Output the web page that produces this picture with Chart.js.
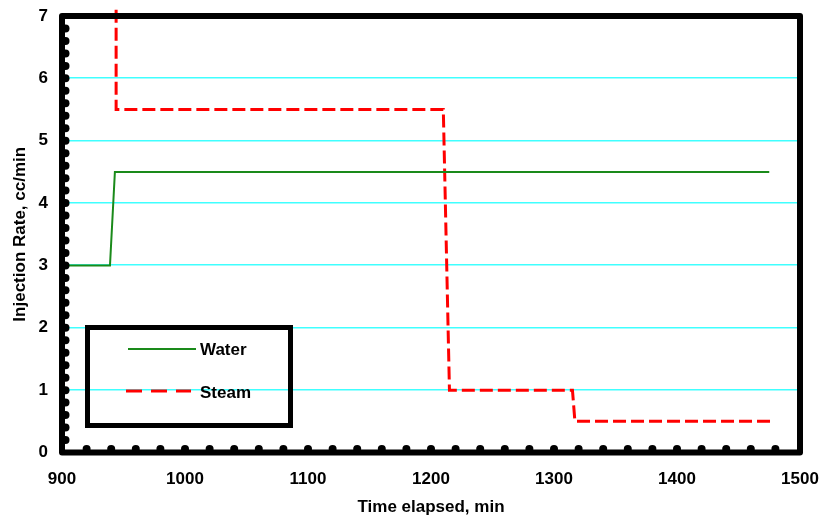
<!DOCTYPE html>
<html>
<head>
<meta charset="utf-8">
<script src="https://cdn.jsdelivr.net/npm/chart.js@4"></script>
<style>
  body { margin: 0; background: #fff; }
</style>
</head>
<body>
<canvas id="chart" width="822" height="521"></canvas>
<script>
// values
const waterTime = [900, 939, 943, 1475];
const waterRate = [3, 3, 4.5, 4.5];
const steamTime = [944, 944, 1210, 1215, 1315, 1317, 1476];
const steamRate = [7.1, 5.5, 5.5, 1, 1, 0.5, 0.5];

const xRange = [900, 1500];
const yRange = [0, 7];
const gridValues = [1, 2, 3, 4, 5, 6];

const font = { family: 'Liberation Sans, Arial, sans-serif', size: 17, weight: 'bold' };

function points(xs, ys) {
	return xs.map((x, i) => ({ x: x, y: ys[i] }));
}

// cyan horizontal grid, drawn on whole pixels
const gridPlugin = {
	id: 'cyanGrid',
	beforeDatasetsDraw(chart) {
		const ctx = chart.ctx;
		const a = chart.chartArea;
		const ys = chart.scales.y;
		ctx.save();
		ctx.fillStyle = '#40ffff';
		gridValues.forEach(v => {
			ctx.fillRect(a.left, Math.round(ys.getPixelForValue(v)) - 1, a.right - a.left, 1.5);
		});
		ctx.restore();
	}
};

// black frame, round minor tick marks, legend box
const framePlugin = {
	id: 'frame',
	afterDatasetsDraw(chart) {
		const ctx = chart.ctx;
		const a = chart.chartArea;
		const xs = chart.scales.x;
		const ys = chart.scales.y;
		ctx.save();
		ctx.fillStyle = '#999';
		ctx.fillRect(a.right - 3, a.top, 1, a.bottom - a.top);

		ctx.strokeStyle = '#000';
		ctx.lineWidth = 6;
		ctx.lineJoin = 'round';
		ctx.strokeRect(a.left, a.top, a.right - a.left, a.bottom - a.top);

		ctx.fillStyle = '#000';
		for (let i = 1; i < 35; i++) {
			ctx.beginPath();
			ctx.arc(a.left + 3.5, ys.getPixelForValue(i * 0.2), 4, 0, Math.PI * 2);
			ctx.fill();
		}
		for (let t = 920; t < 1500; t += 20) {
			ctx.beginPath();
			ctx.arc(xs.getPixelForValue(t), a.bottom - 3.5, 4, 0, Math.PI * 2);
			ctx.fill();
		}

		// legend
		ctx.lineWidth = 5;
		ctx.lineJoin = 'miter';
		ctx.strokeRect(87.5, 327.5, 203, 98);
		const ds = chart.data.datasets;
		ctx.font = 'bold 17px Liberation Sans, Arial, sans-serif';
		ctx.textBaseline = 'middle';
		ctx.fillStyle = '#000';

		ctx.strokeStyle = ds[0].borderColor;
		ctx.lineWidth = ds[0].borderWidth;
		ctx.beginPath();
		ctx.moveTo(128, 349);
		ctx.lineTo(196, 349);
		ctx.stroke();
		ctx.fillText(ds[0].label, 200, 350);

		ctx.strokeStyle = ds[1].borderColor;
		ctx.lineWidth = ds[1].borderWidth;
		ctx.setLineDash([16, 9]);
		ctx.beginPath();
		ctx.moveTo(126, 391);
		ctx.lineTo(191, 391);
		ctx.stroke();
		ctx.setLineDash([]);
		ctx.fillText(ds[1].label, 200, 393);
		ctx.restore();
	}
};

new Chart(document.getElementById('chart').getContext('2d'), {
	type: 'scatter',
	data: {
		datasets: [
			{
				label: 'Water',
				data: points(waterTime, waterRate),
				showLine: true,
				borderColor: '#1a8a1a',
				borderWidth: 2,
				pointRadius: 0,
				tension: 0,
			},
			{
				label: 'Steam',
				data: points(steamTime, steamRate),
				showLine: true,
				borderColor: '#ff0000',
				borderWidth: 3,
				borderDash: [13, 5],
				pointRadius: 0,
				tension: 0,
				clip: false,
			},
		],
	},
	options: {
		responsive: false,
		animation: false,
		layout: { padding: { top: 16, right: 22, left: 0, bottom: 0 } },
		plugins: { legend: { display: false }, tooltip: { enabled: false } },
		scales: {
			x: {
				type: 'linear',
				min: xRange[0],
				max: xRange[1],
				afterFit(scale) {
					scale.height = 68.5;
					scale.paddingLeft = 0;
					scale.paddingRight = 0;
				},
				grid: { display: false, drawTicks: false },
				border: { display: false },
				ticks: {
					stepSize: 100,
					color: '#000',
					font: font,
					padding: 17,
					maxRotation: 0,
					callback: v => String(v),
				},
				title: {
					display: true,
					text: 'Time elapsed, min',
					color: '#000',
					font: font,
					padding: { top: 0, bottom: 3 },
				},
			},
			y: {
				type: 'linear',
				min: yRange[0],
				max: yRange[1],
				afterFit(scale) {
					scale.width = 62;
					scale.paddingTop = 0;
					scale.paddingBottom = 0;
				},
				grid: { display: false, drawTicks: false },
				border: { display: false },
				ticks: { stepSize: 1, color: '#000', font: font, padding: 14 },
				title: {
					display: true,
					text: 'Injection Rate, cc/min',
					color: '#000',
					font: font,
					padding: { top: 10, bottom: 0 },
				},
			},
		},
	},
	plugins: [gridPlugin, framePlugin],
});
</script>
</body>
</html>
